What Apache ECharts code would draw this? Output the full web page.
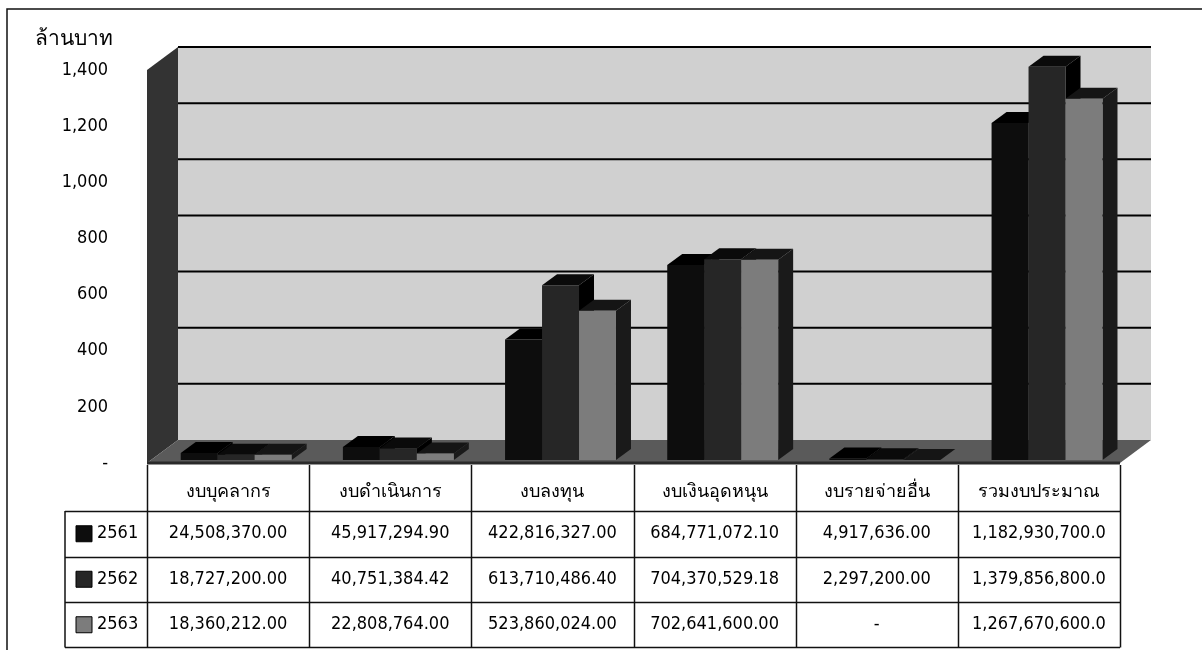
<!DOCTYPE html>
<html>
<head>
<meta charset="utf-8">
<script src="https://cdn.jsdelivr.net/npm/echarts@6/dist/echarts.min.js"></script>
<style>
html, body { margin: 0; padding: 0; background: #fff; }
#main { width: 1203px; height: 650px; }
</style>
</head>
<body>
<div id="main"></div>
<script>
// งบประมาณ (ล้านบาท) จำแนกตามงบรายจ่าย ปี 2561-2563
const categories = ['งบบุคลากร', 'งบดำเนินการ', 'งบลงทุน', 'งบเงินอุดหนุน', 'งบรายจ่ายอื่น', 'รวมงบประมาณ'];
const years = ['2561', '2562', '2563'];
const budget2561 = [24.51, 45.92, 422.82, 684.77, 4.92, 1182.93];
const budget2562 = [18.73, 40.75, 613.71, 704.37, 2.30, 1379.86];
const budget2563 = [18.36, 22.81, 523.86, 702.64, 0, 1267.67];
const table2561 = ['24,508,370.00', '45,917,294.90', '422,816,327.00', '684,771,072.10', '4,917,636.00', '1,182,930,700.0'];
const table2562 = ['18,727,200.00', '40,751,384.42', '613,710,486.40', '704,370,529.18', '2,297,200.00', '1,379,856,800.0'];
const table2563 = ['18,360,212.00', '22,808,764.00', '523,860,024.00', '702,641,600.00', '-', '1,267,670,600.0'];
const yTicks = [200, 400, 600, 800, 1000, 1200, 1400];

const FONT = "Tahoma, 'DejaVu Sans Condensed', 'DejaVu Sans', sans-serif";
const DX = 31, DY = -23;      // depth of the walls
const SX = 15, SY = -11;      // depth of a bar
const yMax = 1400;

// colours for each year: front, top, side
const barColors = [
    { front: '#0d0d0d', top: '#000000', side: '#000000' },
    { front: '#262626', top: '#0a0a0a', side: '#000000' },
    { front: '#7c7c7c', top: '#151515', side: '#1a1a1a' }
];

const chart = echarts.init(document.getElementById('main'));

function renderWalls(params, api) {
    const bw = api.size([1, 0])[0];
    const x0 = api.coord([0, 0])[0] - bw / 2;
    const x1 = api.coord([categories.length - 1, 0])[0] + bw / 2;
    const y0 = api.coord([0, 0])[1];
    const yT = api.coord([0, yMax])[1];
    const children = [
        { type: 'polygon', shape: { points: [[x0, yT], [x0 + DX, yT + DY], [x0 + DX, y0 + DY], [x0, y0]] },
          style: { fill: '#333333' } },
        { type: 'rect', shape: { x: x0 + DX, y: yT + DY, width: x1 - x0, height: y0 - yT } ,
          style: { fill: '#d0d0d0' } },
        { type: 'polygon', shape: { points: [[x0, y0], [x0 + DX, y0 + DY], [x1 + DX, y0 + DY], [x1, y0]] },
          style: { fill: '#5a5a5a' } },
        { type: 'line', shape: { x1: x0, y1: y0, x2: x1, y2: y0 }, style: { stroke: '#2a2a2a', lineWidth: 3 } }
    ];
    yTicks.forEach(function (v) {
        const y = api.coord([0, v])[1] + DY;
        children.push({ type: 'line', shape: { x1: x0 + DX, y1: y, x2: x1 + DX, y2: y },
            style: { stroke: '#000', lineWidth: 2 } });
    });
    return { type: 'group', children: children };
}

function makeBarRenderer(k) {
    return function (params, api) {
        const i = api.value(0);
        const v = api.value(1);
        const top = api.coord([i, v]);
        const base = api.coord([i, 0]);
        const bw = api.size([1, 0])[0];
        const w = bw * 0.228;
        const xL = top[0] + bw * 0.05 + (k - 1) * w - w / 2;
        const xR = xL + w;
        const yB = base[1] - 3;
        const yT = yB - (base[1] - top[1]) * 1.015;
        const c = barColors[k];
        return {
            type: 'group',
            children: [
                { type: 'polygon', shape: { points: [[xR, yT], [xR + SX, yT + SY], [xR + SX, yB + SY], [xR, yB]] },
                  style: { fill: c.side } },
                { type: 'polygon', shape: { points: [[xL, yT], [xL + SX, yT + SY], [xR + SX, yT + SY], [xR, yT]] },
                  style: { fill: c.top } },
                { type: 'rect', shape: { x: xL, y: yT, width: w, height: yB - yT },
                  style: { fill: c.front } }
            ]
        };
    };
}

const seriesData = [budget2561, budget2562, budget2563];

chart.setOption({
    animation: false,
    grid: { left: 147, right: 83, top: 70, bottom: 187 },
    xAxis: {
        type: 'category',
        data: categories,
        axisLine: { show: false },
        axisTick: { show: false },
        axisLabel: { show: false }
    },
    yAxis: {
        type: 'value',
        min: 0,
        max: yMax,
        interval: 200,
        name: 'ล้านบาท',
        nameLocation: 'end',
        nameGap: 20,
        nameTextStyle: { fontFamily: FONT, fontSize: 21, color: '#000', align: 'right', padding: [0, 34, 0, 0] },
        axisLine: { show: false },
        axisTick: { show: false },
        splitLine: { show: false },
        axisLabel: {
            margin: 39,
            fontFamily: FONT,
            fontSize: 18,
            color: '#000',
            formatter: function (v) { return v === 0 ? '-' : v.toLocaleString('en-US'); }
        }
    },
    series: [
        { type: 'custom', name: 'walls', renderItem: renderWalls, data: [[0, 0]], z: 1, silent: true }
    ].concat(seriesData.map(function (arr, k) {
        return {
            type: 'custom',
            name: years[k],
            renderItem: makeBarRenderer(k),
            data: arr.map(function (v, i) { return [i, v]; }),
            z: 2 + k
        };
    }))
});

// data table under the chart, aligned with the category bands
const centers = categories.map(function (c, i) { return chart.convertToPixel({ xAxisIndex: 0 }, i); });
const band = centers[1] - centers[0];
const tLeft = centers[0] - band / 2;
const tRight = centers[centers.length - 1] + band / 2;
const tTop = 465, headH = 46, rowH = 45.5;
const rowLeft = 65;
const tableRows = [table2561, table2562, table2563];
const tBottom = tTop + headH + rowH * 3;
const lineStyle = { stroke: '#111', lineWidth: 1.5 };
const graphics = [];

// frame
graphics.push({ type: 'polyline', shape: { points: [[7, 652], [7, 9], [1202, 9]] }, style: { stroke: '#111', lineWidth: 1.5, fill: null } });

// vertical lines
for (let i = 0; i <= categories.length; i++) {
    const x = Math.round(tLeft + band * i) + 0.5;
    graphics.push({ type: 'line', shape: { x1: x, y1: tTop, x2: x, y2: tBottom }, style: lineStyle });
}
graphics.push({ type: 'line', shape: { x1: rowLeft, y1: tTop + headH, x2: rowLeft, y2: tBottom }, style: lineStyle });
// horizontal lines
for (let r = 1; r <= 3; r++) {
    const y = Math.round(tTop + headH + rowH * (r - 1)) + 0.5;
    graphics.push({ type: 'line', shape: { x1: rowLeft, y1: y, x2: tRight, y2: y }, style: lineStyle });
}
graphics.push({ type: 'line', shape: { x1: rowLeft, y1: tBottom, x2: tRight, y2: tBottom }, style: lineStyle });

// header texts
categories.forEach(function (c, i) {
    graphics.push({ type: 'text', x: centers[i], y: tTop + headH / 2 + 4,
        style: { text: c, fontFamily: FONT, fontSize: 18, fill: '#000', align: 'center', verticalAlign: 'middle' } });
});
// row headers with swatches, and cells
tableRows.forEach(function (row, r) {
    const yc = tTop + headH + rowH * r + rowH / 2;
    graphics.push({ type: 'rect', shape: { x: 76, y: yc - 8, width: 16, height: 16 },
        style: { fill: barColors[r].front, stroke: '#000', lineWidth: 1 } });
    graphics.push({ type: 'text', x: 97, y: yc,
        style: { text: years[r], fontFamily: FONT, fontSize: 18, fill: '#000', align: 'left', verticalAlign: 'middle' } });
    row.forEach(function (t, i) {
        graphics.push({ type: 'text', x: centers[i], y: yc,
            style: { text: t, fontFamily: FONT, fontSize: 18, fill: '#000', align: 'center', verticalAlign: 'middle' } });
    });
});

chart.setOption({ graphic: graphics });
</script>
</body>
</html>
